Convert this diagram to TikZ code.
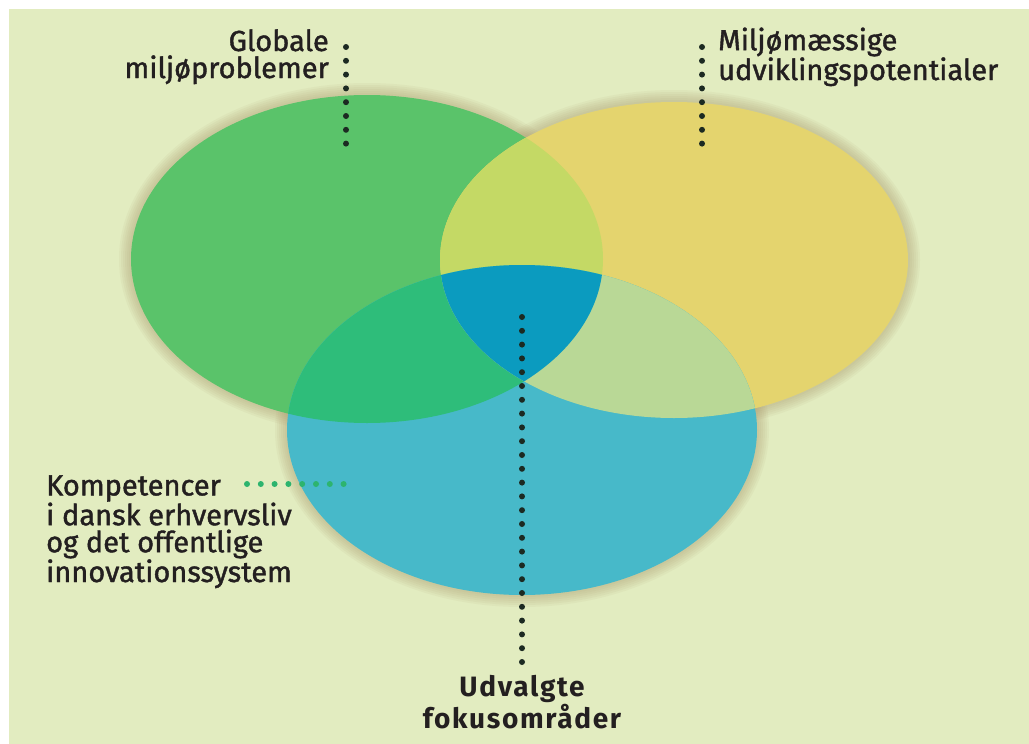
\documentclass[tikz,border=0pt]{standalone}
\usepackage{fontspec}
\setmainfont{Fira Sans}
\newfontfamily\lblfont{Fira Sans}[FakeBold=1.4]
\newfontfamily\udvfont{Fira Sans Bold}[LetterSpace=6]
\usetikzlibrary{calc}

\definecolor{bgcol}{HTML}{E2ECC0}
\definecolor{halocol}{HTML}{A8956A}
\definecolor{grncol}{HTML}{5AC36A}
\definecolor{ylwcol}{HTML}{E4D46E}
\definecolor{blucol}{HTML}{47B9C9}
\definecolor{gycol}{HTML}{C4D965}
\definecolor{gbcol}{HTML}{2EBD7A}
\definecolor{ybcol}{HTML}{B9D896}
\definecolor{midcol}{HTML}{0B9BBF}
\definecolor{dotcol}{HTML}{1C2A22}
\definecolor{gdotcol}{HTML}{2DB46E}
\definecolor{txtcol}{HTML}{231F20}

% the three circles, #1 = extra radius
\newcommand\grnell[1]{(367,259) ellipse [x radius=236+#1, y radius=164+#1]}
\newcommand\ylwell[1]{(674,260) ellipse [x radius=234+#1, y radius=158+#1]}
\newcommand\bluell[1]{(522,430) ellipse [x radius=235+#1, y radius=165+#1]}

\begin{document}
\begin{tikzpicture}[x=1pt,y=-1pt,
  lbl/.style={inner sep=0pt, text=txtcol, font=\fontsize{29}{27}\lblfont},
  leader/.style={draw=dotcol, line width=6pt, line cap=round, dash pattern=on 0pt off 13.8pt},
  halo/.style={fill=halocol, fill opacity=0.08}]

\fill[white] (0,0) rectangle (1029,744);
\fill[bgcol] (9,9) rectangle (1029,744);
\useasboundingbox (0,0) rectangle (1029,744);

\foreach \r in {2,4,...,12} {
  \fill[halo] \grnell{\r};
  \fill[halo] \ylwell{\r};
  \fill[halo] \bluell{\r};
}

\fill[grncol] \grnell{0};
\fill[ylwcol] \ylwell{0};
\fill[blucol] \bluell{0};

\begin{scope}
  \clip \grnell{0};
  \fill[gycol] \ylwell{0};
  \fill[gbcol] \bluell{0};
\end{scope}
\begin{scope}
  \clip \ylwell{0};
  \fill[ybcol] \bluell{0};
  \clip \grnell{0};
  \fill[midcol] \bluell{0};
\end{scope}

% base anchor sits on the last line
\node[lbl, align=right, anchor=base east] (glob) at (329,78) {Globale\\miljøproblemer};
\node[lbl, align=left, anchor=base west] (milj) at (718,80) {Miljømæssige\\udviklingspotentialer};
\node[lbl, align=left, anchor=base west] (komp) at (46,582) {Kompetencer\\i dansk erhvervsliv\\og det offentlige\\innovationssystem};
\node[lbl, font=\fontsize{28}{28}\udvfont, align=center, anchor=base] (udv) at (522,728) {Udvalgte\\fokusområder};

\coordinate (glob-a) at (346,47);
\coordinate (glob-b) at (346,145);
\coordinate (milj-a) at (702,47);
\coordinate (milj-b) at (702,145);
\coordinate (komp-a) at (247,484);
\coordinate (komp-b) at (345,484);
\coordinate (udv-a) at (522,662);
\coordinate (udv-b) at (522,317);

\draw[leader] (glob-a) -- (glob-b);
\draw[leader] (milj-a) -- (milj-b);
\draw[leader, draw=gdotcol] (komp-a) -- (komp-b);
\draw[leader] (udv-a) -- (udv-b);

\end{tikzpicture}
\end{document}
